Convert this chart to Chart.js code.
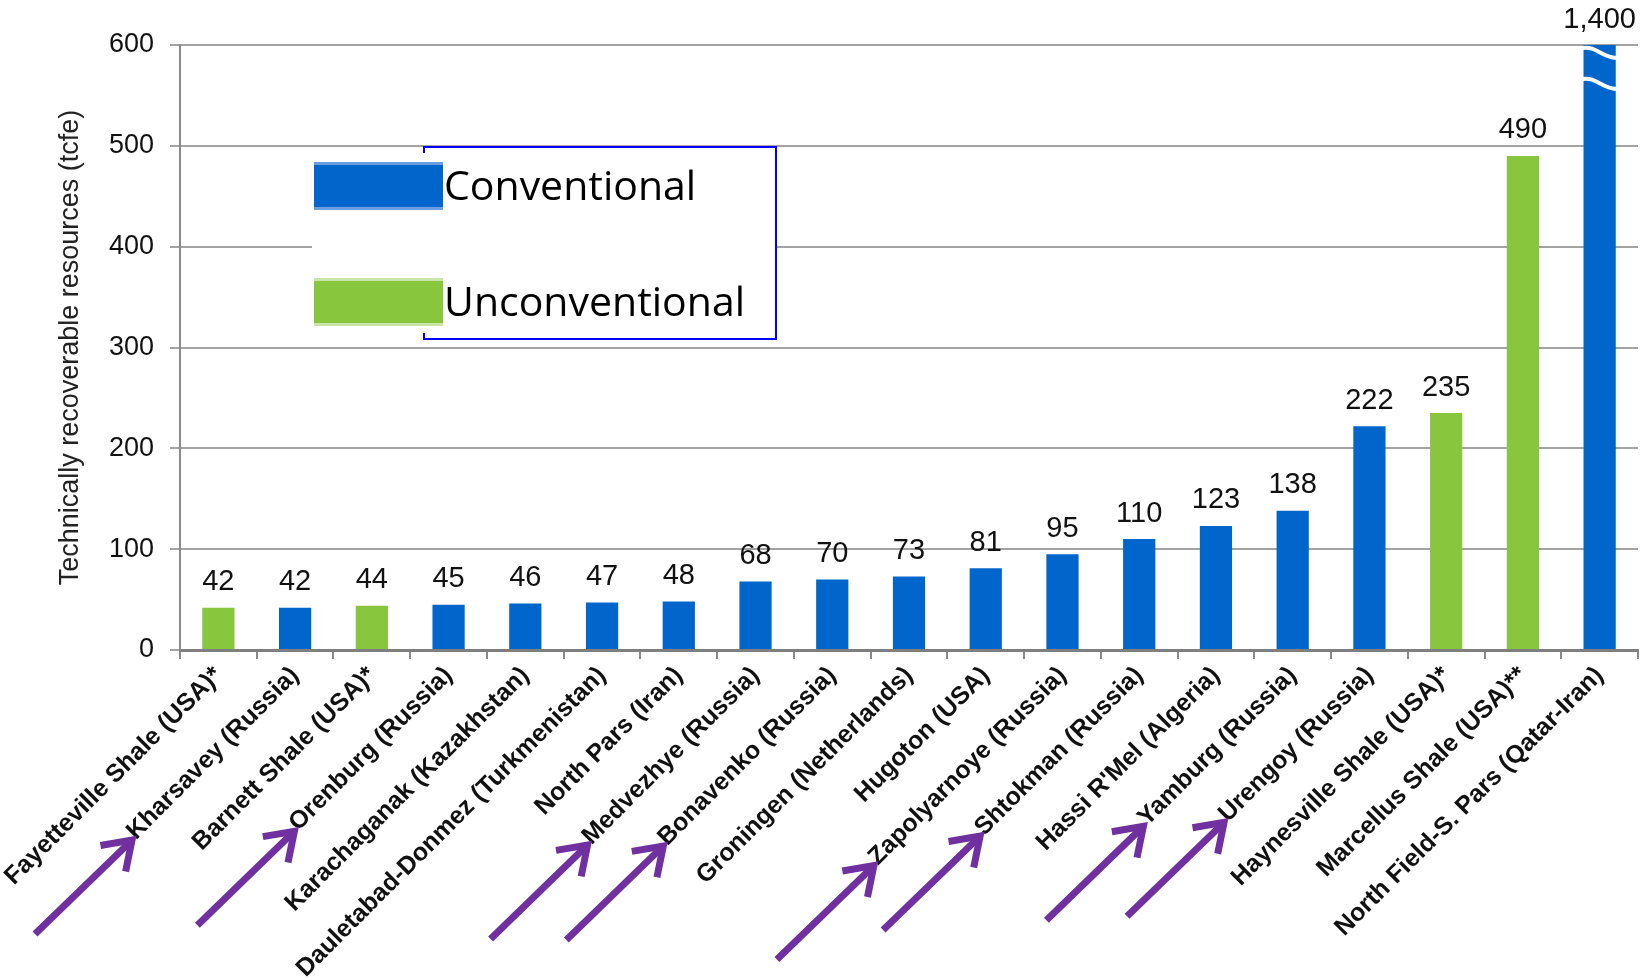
<!DOCTYPE html>
<html>
<head>
<meta charset="utf-8">
<script src="https://cdn.jsdelivr.net/npm/chart.js@4.4.1/dist/chart.umd.min.js"></script>
<style>
  html, body { margin: 0; padding: 0; background: #fff; }
  #wrap { width: 1644px; height: 980px; }
</style>
</head>
<body>
<div id="wrap"><canvas id="chart" width="1644" height="980"></canvas></div>
<script>
const fields = [
  'Fayetteville Shale (USA)*', 'Kharsavey (Russia)', 'Barnett Shale (USA)*', 'Orenburg (Russia)',
  'Karachaganak (Kazakhstan)', 'Dauletabad-Donmez (Turkmenistan)', 'North Pars (Iran)', 'Medvezhye (Russia)',
  'Bonavenko (Russia)', 'Groningen (Netherlands)', 'Hugoton (USA)', 'Zapolyarnoye (Russia)',
  'Shtokman (Russia)', "Hassi R'Mel (Algeria)", 'Yamburg (Russia)', 'Urengoy (Russia)',
  'Haynesville Shale (USA)*', 'Marcellus Shale (USA)**', 'North Field-S. Pars (Qatar-Iran)'
];
const resources = [42, 42, 44, 45, 46, 47, 48, 68, 70, 73, 81, 95, 110, 123, 138, 222, 235, 490, 1400];
const kind = ['U', 'C', 'U', 'C', 'C', 'C', 'C', 'C', 'C', 'C', 'C', 'C', 'C', 'C', 'C', 'C', 'U', 'U', 'C'];
const arrowed = ['Kharsavey (Russia)', 'Orenburg (Russia)', 'Medvezhye (Russia)', 'Bonavenko (Russia)',
  'Zapolyarnoye (Russia)', 'Shtokman (Russia)', 'Yamburg (Russia)', 'Urengoy (Russia)'];
const yMax = 600;
const yStep = 100;

const BLUE = '#0066cc', GREEN = '#88c73d', PURPLE = '#7030a0';
const FONT = "'Liberation Sans', Arial, sans-serif";
const LABEL_FONT = 'bold 25px ' + FONT;

// value labels above bars
const valueLabels = {
  id: 'valueLabels',
  afterDatasetsDraw(chart) {
    const { ctx, chartArea } = chart;
    const meta = chart.getDatasetMeta(0);
    ctx.save();
    ctx.font = '29px ' + FONT;
    ctx.fillStyle = '#111';
    ctx.textAlign = 'center';
    ctx.textBaseline = 'bottom';
    meta.data.forEach((bar, i) => {
      const top = Math.max(bar.y, chartArea.top);
      ctx.fillText(resources[i].toLocaleString('en-US'), bar.x, top - 11);
    });
    ctx.restore();
  }
};

// white break marks on bars beyond the axis max
const axisBreak = {
  id: 'axisBreak',
  afterDatasetsDraw(chart) {
    const { ctx, chartArea } = chart;
    const meta = chart.getDatasetMeta(0);
    ctx.save();
    ctx.strokeStyle = '#fff';
    ctx.lineWidth = 4;
    meta.data.forEach((bar, i) => {
      if (resources[i] <= yMax) return;
      const l = bar.x - bar.width / 2 - 1, r = bar.x + bar.width / 2 + 1;
      [chartArea.top + 3, chartArea.top + 34].forEach(y => {
        ctx.beginPath();
        ctx.moveTo(l, y);
        ctx.bezierCurveTo(l + bar.width * 0.45, y - 2, l + bar.width * 0.55, y + 9, r, y + 10);
        ctx.stroke();
      });
    });
    ctx.restore();
  }
};

// legend box inside the plot
const boxLegend = {
  id: 'boxLegend',
  afterDatasetsDraw(chart) {
    const { ctx } = chart;
    ctx.save();
    ctx.fillStyle = '#fff';
    ctx.fillRect(312, 147, 464, 192);
    ctx.strokeStyle = '#0000ff';
    ctx.lineWidth = 2;
    ctx.beginPath();
    ctx.moveTo(424, 153); ctx.lineTo(424, 147); ctx.lineTo(776, 147);
    ctx.lineTo(776, 339); ctx.lineTo(424, 339); ctx.lineTo(424, 333);
    ctx.stroke();
    [[BLUE, '#6a9ee0', 'Conventional', 162, 200], [GREEN, '#c9e6a8', 'Unconventional', 278, 316]].forEach(([c, edge, text, y, base]) => {
      ctx.fillStyle = edge;
      ctx.fillRect(314, y, 129, 48);
      ctx.fillStyle = c;
      ctx.fillRect(314, y + 3, 129, 42);
      ctx.fillStyle = '#000';
      ctx.font = '41px "Open Sans", sans-serif';
      ctx.textBaseline = 'alphabetic';
      ctx.fillText(text, 444, base);
    });
    ctx.restore();
  }
};

// purple arrows pointing at selected category labels
const pointers = {
  id: 'pointers',
  afterDraw(chart) {
    const { ctx } = chart;
    const xs = chart.scales.x;
    ctx.save();
    ctx.font = LABEL_FONT;
    ctx.strokeStyle = PURPLE;
    ctx.lineWidth = 7;
    ctx.lineCap = 'butt';
    ctx.lineJoin = 'miter';
    arrowed.forEach(name => {
      const i = fields.indexOf(name);
      const w = ctx.measureText(name).width;
      const x0 = xs.getPixelForTick(i);
      const y0 = xs.top + 14;
      const tip = { x: x0 - w * Math.SQRT1_2 + 1, y: y0 + w * Math.SQRT1_2 + 12 };
      const tail = { x: tip.x - 97, y: tip.y + 94 };
      const ang = Math.atan2(tail.y - tip.y, tail.x - tip.x);
      ctx.beginPath();
      ctx.moveTo(tail.x, tail.y);
      ctx.lineTo(tip.x - 3 * Math.cos(ang + Math.PI), tip.y - 3 * Math.sin(ang + Math.PI));
      ctx.stroke();
      ctx.beginPath();
      ctx.moveTo(tip.x + 32 * Math.cos(ang - 0.6), tip.y + 32 * Math.sin(ang - 0.6));
      ctx.lineTo(tip.x, tip.y);
      ctx.lineTo(tip.x + 32 * Math.cos(ang + 0.6), tip.y + 32 * Math.sin(ang + 0.6));
      ctx.stroke();
    });
    ctx.restore();
  }
};

new Chart(document.getElementById('chart'), {
  type: 'bar',
  data: {
    labels: fields,
    datasets: [{
      data: resources,
      backgroundColor: kind.map(k => k === 'U' ? GREEN : BLUE),
      barPercentage: 0.42,
      categoryPercentage: 1
    }]
  },
  options: {
    responsive: false,
    animation: false,
    devicePixelRatio: 1,
    layout: { padding: { top: 45, right: 6, left: 0, bottom: 0 } },
    plugins: { legend: { display: false }, tooltip: { enabled: false } },
    scales: {
      x: {
        grid: { drawOnChartArea: false, offset: true, tickLength: 9, color: '#8a8a8a', lineWidth: 2 },
        border: { color: '#7f7f7f', width: 3 },
        ticks: { autoSkip: false, minRotation: 45, maxRotation: 45, padding: 2, color: '#111', font: { family: FONT, size: 25, weight: 'bold' } },
        afterFit(s) { s.height = 330; }
      },
      y: {
        min: 0, max: yMax,
        grid: { color: '#a3a3a3', lineWidth: 2, tickLength: 10 },
        border: { color: '#8a8a8a', width: 2 },
        ticks: { stepSize: yStep, padding: 16, color: '#111', font: { family: FONT, size: 27 } },
        title: { display: true, text: 'Technically recoverable resources (tcfe)', color: '#222', padding: { top: 54, bottom: 0 }, font: { family: FONT, size: 27 } },
        afterFit(s) { s.width = 180; }
      }
    }
  },
  plugins: [valueLabels, axisBreak, boxLegend, pointers]
});
</script>
</body>
</html>
